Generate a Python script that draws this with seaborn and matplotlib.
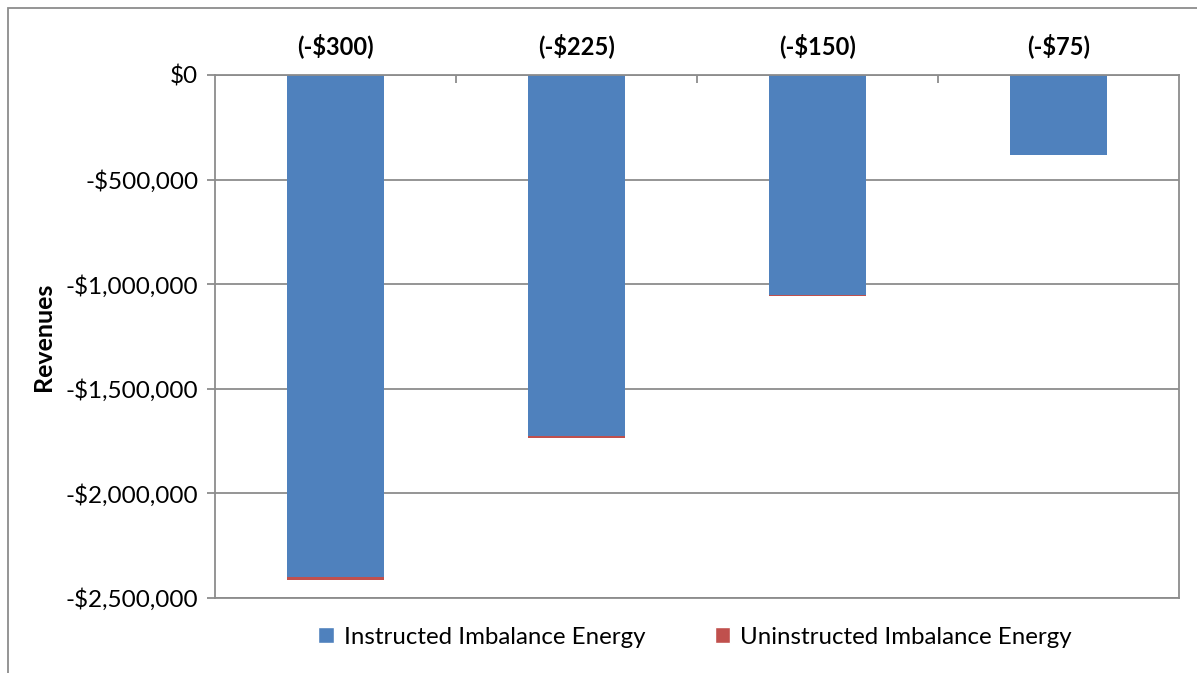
import numpy as np
import pandas as pd
import matplotlib
matplotlib.use("Agg")
import matplotlib.pyplot as plt
from matplotlib.patches import Patch, Rectangle
from matplotlib.ticker import FuncFormatter, FixedLocator
import seaborn as sns

# price floor scenarios and revenues
categories = ["(-$300)", "(-$225)", "(-$150)", "(-$75)"]
instructed = [-2400000, -1725000, -1050000, -382000]
uninstructed = [-12000, -8000, -6000, -1000]

blue = "#4F81BD"
red = "#C0504D"
grey = "#8C8C8C"

sns.set_theme(style="white")
plt.rcParams['font.family'] = ['Lato', 'DejaVu Sans']
plt.rcParams['text.color'] = 'black'
plt.rcParams['axes.labelcolor'] = 'black'

df = pd.DataFrame({"cat": categories,
                   "instructed": instructed,
                   "total": np.array(instructed) + np.array(uninstructed)})

fig = plt.figure(figsize=(11.97, 6.73), dpi=100)
ax = fig.add_axes([215 / 1197, 1 - 598 / 673, (1179 - 215) / 1197, (598 - 75) / 673])

# stack by overlaying: full (red) bar first, then instructed (blue) on top
sns.barplot(data=df, x="cat", y="total", color=red, width=0.4, saturation=1,
            ax=ax, linewidth=0)
sns.barplot(data=df, x="cat", y="instructed", color=blue, width=0.4, saturation=1,
            ax=ax, linewidth=0)

ax.set_ylim(-2500000, 0)
ax.set_xlim(-0.5, 3.5)
ax.set_yticks(np.arange(-2500000, 1, 500000))
ax.yaxis.set_major_formatter(FuncFormatter(
    lambda v, p: "$0" if v == 0 else ("-${:,.0f}".format(-v))))
ax.grid(axis="y", color=grey, linewidth=1.3)
ax.set_axisbelow(True)

for s in ax.spines.values():
    s.set_color(grey)
    s.set_linewidth(1.3)

ax.xaxis.tick_top()
ax.xaxis.set_label_position("top")
ax.set_xlabel("")
ax.set_ylabel("Revenues", fontsize=18, fontweight="bold", labelpad=8)
ax.tick_params(axis="x", which="major", length=0, pad=12, labelsize=17,
               labelcolor="black")
for lab in ax.get_xticklabels():
    lab.set_fontweight("bold")
ax.xaxis.set_minor_locator(FixedLocator([0.5, 1.5, 2.5]))
ax.tick_params(axis="x", which="minor", direction="in", length=6, width=1.3,
               color=grey, top=True, bottom=False)
ax.tick_params(axis="y", which="major", left=True, direction="out", length=6,
               width=1.3, color=grey, labelsize=17.5, pad=6, labelcolor="black")

handles = [Patch(facecolor=blue, label="Instructed Imbalance Energy"),
           Patch(facecolor=red, label="Uninstructed Imbalance Energy")]
fig.legend(handles=handles, loc="center", bbox_to_anchor=(695 / 1197, 1 - 637 / 673),
           ncol=2, frameon=False, fontsize=17.3, handlelength=0.65, handleheight=0.65,
           handletextpad=0.4, columnspacing=2.9)

# outer chart border (cropped on right and bottom)
fig.patches.append(Rectangle((8 / 1197, -0.1), 1.2, 1 - 8 / 673 + 0.1,
                             transform=fig.transFigure, fill=False,
                             edgecolor=grey, linewidth=1.3))

fig.savefig("out.png", dpi=100)
